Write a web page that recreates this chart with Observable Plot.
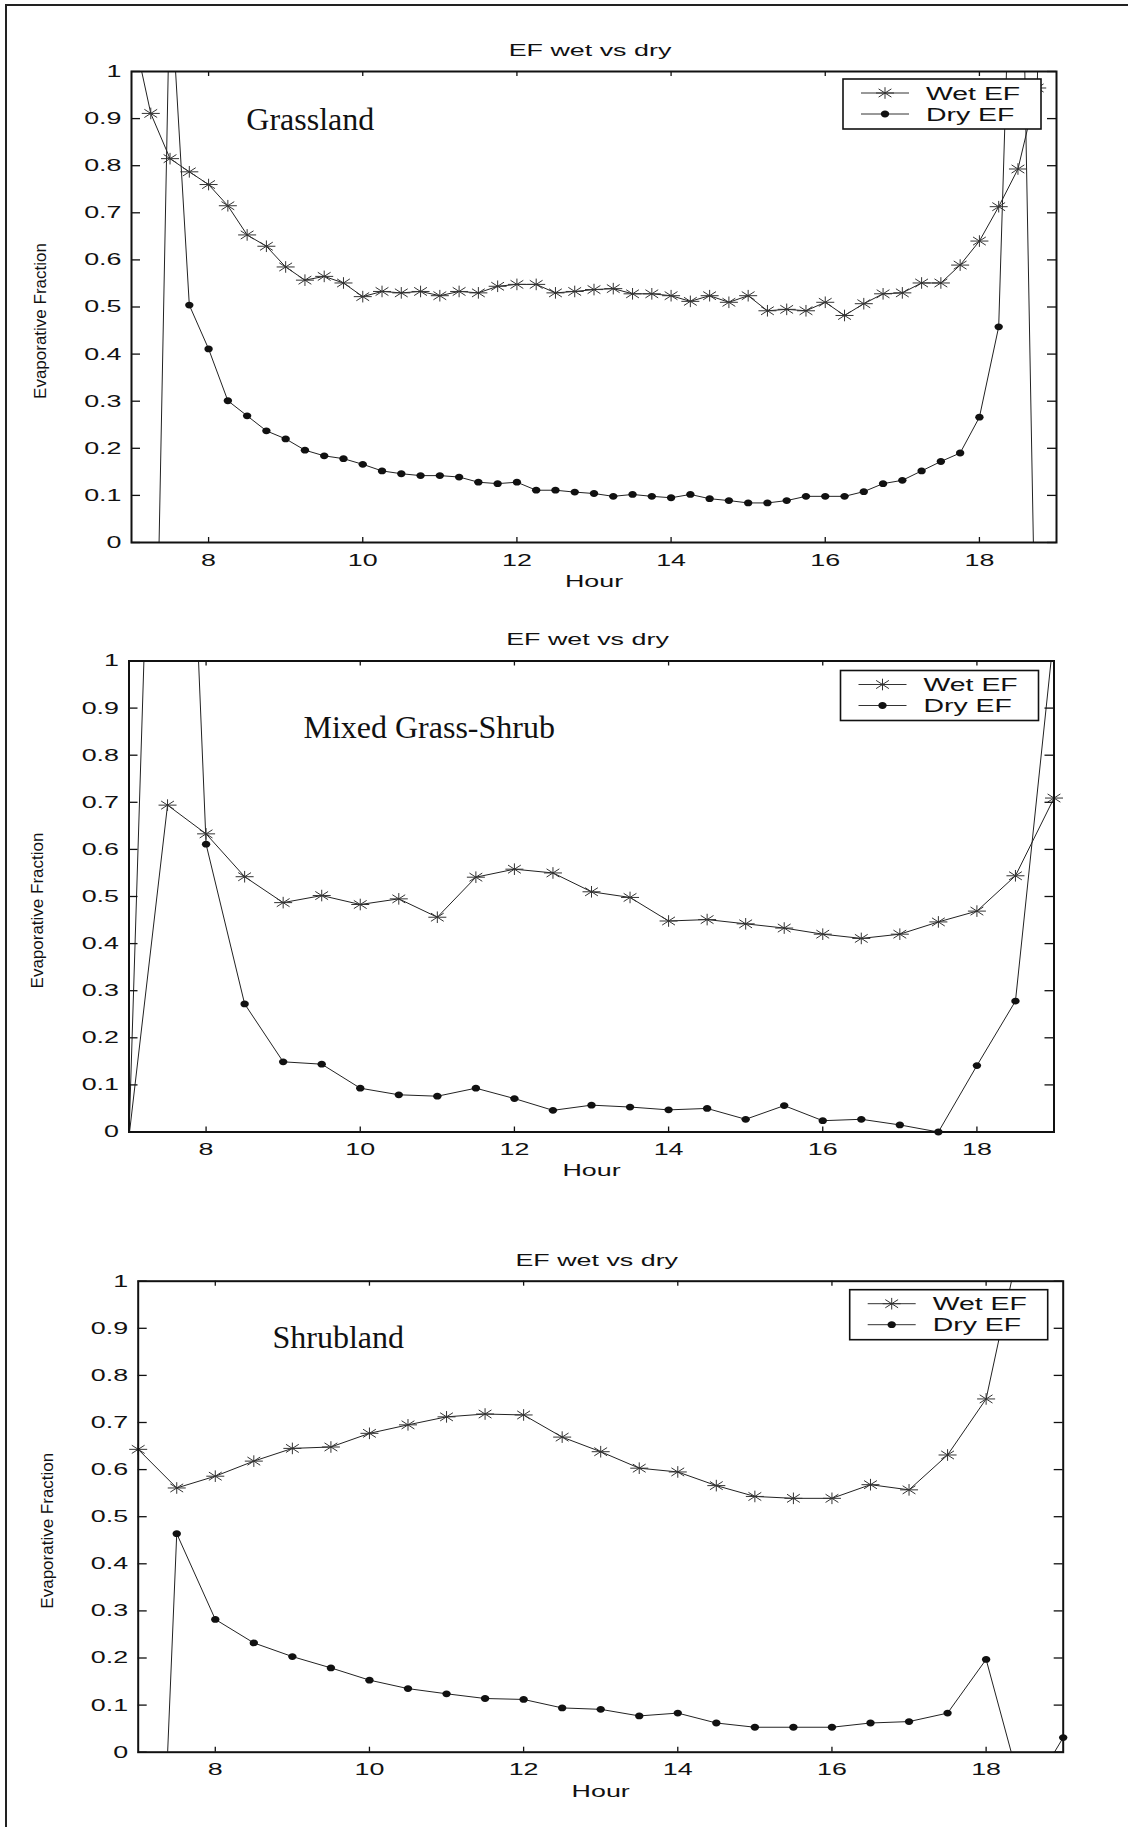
<!DOCTYPE html>
<html>
<head>
<meta charset="utf-8">
<script src="https://cdn.jsdelivr.net/npm/d3@7"></script>
<script src="https://cdn.jsdelivr.net/npm/@observablehq/plot@0.6"></script>
<style>
  html, body { margin: 0; padding: 0; background: #fff; }
  #page { position: relative; width: 1128px; height: 1827px; overflow: hidden; background: #fff; }
  #page svg { position: absolute; left: 0; }
  #border { position: absolute; left: 4.7px; top: 4px; right: -10px; bottom: -10px;
            border-top: 2px solid #222; border-left: 2px solid #222; pointer-events: none; z-index: 5; }
</style>
</head>
<body>
<div id="page"><div id="border"></div></div>
<script>
// ---- data -------------------------------------------------------------
const hoursQuarter = [7, 7.25, 7.5, 7.75, 8, 8.25, 8.5, 8.75, 9, 9.25, 9.5, 9.75, 10, 10.25, 10.5, 10.75,
  11, 11.25, 11.5, 11.75, 12, 12.25, 12.5, 12.75, 13, 13.25, 13.5, 13.75, 14, 14.25, 14.5, 14.75,
  15, 15.25, 15.5, 15.75, 16, 16.25, 16.5, 16.75, 17, 17.25, 17.5, 17.75, 18, 18.25, 18.5, 18.75, 19];
const grassWet = [1.10, 0.911, 0.815, 0.787, 0.760, 0.715, 0.653, 0.629, 0.585, 0.557, 0.565, 0.551,
  0.522, 0.533, 0.530, 0.533, 0.524, 0.533, 0.530, 0.544, 0.548, 0.548, 0.530, 0.533, 0.537, 0.539,
  0.528, 0.528, 0.524, 0.512, 0.524, 0.510, 0.524, 0.492, 0.495, 0.492, 0.510, 0.482, 0.507, 0.528,
  0.530, 0.551, 0.551, 0.589, 0.640, 0.713, 0.793, 0.965, 3.0];
const grassDry = [null, -0.91, 1.20, 0.504, 0.411, 0.301, 0.269, 0.237, 0.220, 0.196, 0.184, 0.178,
  0.166, 0.152, 0.146, 0.142, 0.142, 0.139, 0.128, 0.125, 0.128, 0.111, 0.111, 0.107, 0.104, 0.098,
  0.102, 0.098, 0.095, 0.102, 0.093, 0.089, 0.084, 0.084, 0.089, 0.098, 0.098, 0.098, 0.108, 0.125,
  0.132, 0.152, 0.172, 0.190, 0.266, 0.458, 1.80, -0.45, null];

const hoursHalf = [7, 7.5, 8, 8.5, 9, 9.5, 10, 10.5, 11, 11.5, 12, 12.5, 13, 13.5, 14, 14.5,
  15, 15.5, 16, 16.5, 17, 17.5, 18, 18.5, 19];
const mixedWet = [-0.01, 0.694, 0.633, 0.542, 0.487, 0.502, 0.483, 0.495, 0.456, 0.541, 0.558, 0.550,
  0.510, 0.498, 0.448, 0.451, 0.442, 0.433, 0.420, 0.411, 0.420, 0.446, 0.469, 0.544, 0.709];
const mixedDry = [-0.01, 2.6, 0.611, 0.272, 0.149, 0.144, 0.093, 0.079, 0.076, 0.093, 0.071, 0.046,
  0.057, 0.053, 0.047, 0.050, 0.027, 0.056, 0.024, 0.027, 0.015, 0.0, 0.141, 0.278, 1.06];
const shrubWet = [0.643, 0.561, 0.586, 0.618, 0.645, 0.648, 0.677, 0.695, 0.712, 0.718, 0.716, 0.669,
  0.638, 0.603, 0.595, 0.566, 0.543, 0.539, 0.539, 0.568, 0.557, 0.631, 0.750, 1.13, null];
const shrubDry = [-1.5, 0.464, 0.282, 0.232, 0.203, 0.179, 0.153, 0.135, 0.124, 0.114, 0.112, 0.094,
  0.091, 0.077, 0.083, 0.062, 0.053, 0.053, 0.053, 0.062, 0.065, 0.083, 0.197, -0.105, 0.031];

const xTickValues = [8, 10, 12, 14, 16, 18];
const yTickValues = [0, 0.1, 0.2, 0.3, 0.4, 0.5, 0.6, 0.7, 0.8, 0.9, 1];
const panelNames = ["Grassland", "Mixed Grass-Shrub", "Shrubland"];
const seriesNames = ["Wet EF", "Dry EF"];
const titleText = "EF wet vs dry";
const xLabelText = "Hour";
const yLabelText = "Evaporative Fraction";

// ---- layout -----------------------------------------------------------
const PAGE_W = 1128, FRAME_W = 925, FRAME_H = 471, STRETCH = 1.58;
const panels = [
  {name: panelNames[0], hours: hoursQuarter, wet: grassWet, dry: grassDry,
   top: 0, height: 600, left: 131, frameTop: 71, label: [8.49, 0.8975], legendTop: 8},
  {name: panelNames[1], hours: hoursHalf, wet: mixedWet, dry: mixedDry,
   top: 600, height: 610, left: 128.5, frameTop: 660.5, label: [9.263, 0.8576], legendTop: 10},
  {name: panelNames[2], hours: hoursHalf, wet: shrubWet, dry: shrubDry,
   top: 1210, height: 617, left: 137.7, frameTop: 1280.7, label: [8.742, 0.8796], legendTop: 9}
];

// MATLAB-style "*" marker: a "+" overlaid with an "x"
function drawStar(context) {
  const hx = 9, vy = 5.8, dx = 6.4, dy = 4.1;
  context.moveTo(-hx, 0); context.lineTo(hx, 0);
  context.moveTo(0, -vy); context.lineTo(0, vy);
  context.moveTo(-dx, -dy); context.lineTo(dx, dy);
  context.moveTo(-dx, dy); context.lineTo(dx, -dy);
}
// filled "." marker, slightly wider than tall
function drawBlob(context) {
  const rx = 4.2, ry = 3.4, k = 0.5523;
  context.moveTo(rx, 0);
  context.bezierCurveTo(rx, ry * k, rx * k, ry, 0, ry);
  context.bezierCurveTo(-rx * k, ry, -rx, ry * k, -rx, 0);
  context.bezierCurveTo(-rx, -ry * k, -rx * k, -ry, 0, -ry);
  context.bezierCurveTo(rx * k, -ry, rx, -ry * k, rx, 0);
  context.closePath();
}
const starSymbol = {draw: drawStar};
const blobSymbol = {draw: drawBlob};

const fmt = (d) => String(+d.toFixed(1));
const visible = (d) => d.value != null && d.value >= 0 && d.value <= 1;
const INK = "#111";
const unstretched = new Set([...panelNames, yLabelText]);

// widen the axis texts horizontally, keeping each text's anchor in place
function stretchTexts(svg, k) {
  svg.querySelectorAll("text").forEach((t) => {
    if (unstretched.has(t.textContent)) return;
    const parts = [];
    const tr = t.getAttribute("transform");
    if (tr) parts.push(tr);
    const xa = t.getAttribute("x");
    if (xa != null && /^-?[\d.]+$/.test(xa)) { parts.push(`translate(${xa},0)`); t.removeAttribute("x"); }
    parts.push(`scale(${k},1)`);
    t.setAttribute("transform", parts.join(" "));
  });
}

function drawLegend(svg, p) {
  const g = d3.select(svg).append("g").attr("aria-label", "legend");
  const boxW = 198, boxH = 50;
  const boxRight = p.left + FRAME_W - 15;
  const boxLeft = boxRight - boxW;
  const boxTop = (p.frameTop - p.top) + p.legendTop;
  g.append("rect").attr("x", boxLeft).attr("y", boxTop).attr("width", boxW).attr("height", boxH)
    .attr("fill", "#fff").attr("stroke", INK).attr("stroke-width", 1.6);
  const rows = [boxTop + 14, boxTop + 35];
  seriesNames.forEach((name, i) => {
    const y = rows[i];
    g.append("line").attr("x1", boxLeft + 18).attr("x2", boxLeft + 66).attr("y1", y).attr("y2", y)
      .attr("stroke", "#333").attr("stroke-width", 1);
    const path = d3.path();
    (i === 0 ? drawStar : drawBlob)(path);
    g.append("path").attr("d", path.toString()).attr("transform", `translate(${boxLeft + 42},${y})`)
      .attr("fill", i === 0 ? "none" : INK).attr("stroke", i === 0 ? "#333" : "none").attr("stroke-width", 1);
    g.append("text").text(name)
      .attr("transform", `translate(${boxLeft + 83},${y + 6.5}) scale(${STRETCH},1)`)
      .attr("text-anchor", "start")
      .attr("font-size", 18).attr("fill", INK);
  });
}

const page = document.getElementById("page");

panels.forEach((p) => {
  const wetRows = p.hours.map((h, i) => ({hour: h, value: p.wet[i]}));
  const dryRows = p.hours.map((h, i) => ({hour: h, value: p.dry[i]}));
  const frameBottom = p.frameTop + FRAME_H;

  const svg = Plot.plot({
    width: PAGE_W,
    height: p.height,
    marginLeft: p.left,
    marginRight: PAGE_W - p.left - FRAME_W,
    marginTop: p.frameTop - p.top,
    marginBottom: p.top + p.height - frameBottom,
    x: {domain: [7, 19]},
    y: {domain: [0, 1]},
    style: {fontFamily: "'Liberation Sans', Arial, sans-serif", fontSize: "17px", color: INK,
            background: "transparent", overflow: "visible", maxWidth: "none"},
    marks: [
      // data
      Plot.line(wetRows, {x: "hour", y: "value", stroke: "#222", strokeWidth: 1, clip: true}),
      Plot.line(dryRows, {x: "hour", y: "value", stroke: "#222", strokeWidth: 1, clip: true}),
      Plot.dot(wetRows.filter(visible), {x: "hour", y: "value", symbol: starSymbol,
        fill: "none", stroke: "#333", strokeWidth: 1}),
      Plot.dot(dryRows.filter(visible), {x: "hour", y: "value", symbol: blobSymbol,
        fill: INK, stroke: "none"}),
      // inward ticks on all four sides
      Plot.tickY(yTickValues, {y: (d) => d, insetRight: FRAME_W - 9, stroke: INK, strokeWidth: 1.3}),
      Plot.tickY(yTickValues, {y: (d) => d, insetLeft: FRAME_W - 9, stroke: INK, strokeWidth: 1.3}),
      Plot.tickX(xTickValues, {x: (d) => d, insetTop: FRAME_H - 5, stroke: INK, strokeWidth: 1.3}),
      Plot.tickX(xTickValues, {x: (d) => d, insetBottom: FRAME_H - 5, stroke: INK, strokeWidth: 1.3}),
      Plot.frame({stroke: INK, strokeWidth: 2}),
      Plot.axisY({ticks: yTickValues, tickSize: 0, tickPadding: 10, tickFormat: fmt, label: null, fill: INK}),
      Plot.axisX({ticks: xTickValues, tickSize: 0, tickPadding: 11, tickFormat: fmt, label: null, fill: INK}),
      // titles
      Plot.text([titleText], {text: (d) => d, frameAnchor: "top", lineAnchor: "middle", dy: -21, dx: -4,
        fill: INK, fontSize: 17}),
      Plot.text([xLabelText], {text: (d) => d, frameAnchor: "bottom", lineAnchor: "middle", dy: 39,
        fill: INK, fontSize: 17}),
      Plot.text([yLabelText], {text: (d) => d, frameAnchor: "left", textAnchor: "middle",
        lineAnchor: "middle", rotate: -90, dx: -91, dy: 14, fill: INK, fontSize: 17}),
      Plot.text([p.name], {text: (d) => d, x: [p.label[0]], y: [p.label[1]], textAnchor: "start",
        lineAnchor: "middle", fontFamily: "'Liberation Serif', 'Times New Roman', serif", fontSize: 32,
        fill: INK})
    ]
  });

  stretchTexts(svg, STRETCH);
  drawLegend(svg, p);
  svg.style.top = p.top + "px";
  page.appendChild(svg);
});
</script>
</body>
</html>
